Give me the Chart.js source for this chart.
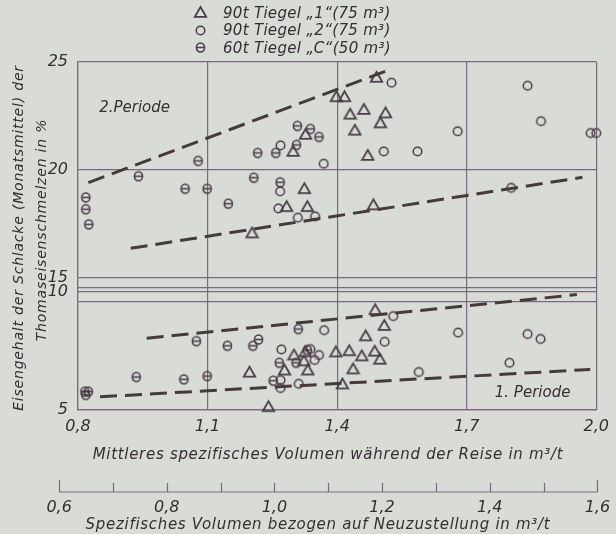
<!DOCTYPE html>
<html lang="de">
<head>
<meta charset="utf-8">
<title>Eisengehalt der Schlacke</title>
<script src="https://cdn.jsdelivr.net/npm/chart.js@4.4.1/dist/chart.umd.min.js"></script>
<style>
  html, body { margin: 0; padding: 0; background: #d9dcd6; }
  #wrap { position: relative; width: 616px; height: 534px; overflow: hidden;
          font-family: "DejaVu Sans", sans-serif; font-style: italic; color: #342e33; }
  #chart { position: absolute; left: 0; top: 0; }
  .legend-row { position: absolute; left: 193px; height: 17px; display: flex; align-items: center;
                white-space: nowrap; font-size: 15px; letter-spacing: 0.3px; }
  .legend-row span { margin-left: 15px; }
  .ytitle { position: absolute; width: 360px; height: 18px; line-height: 18px; text-align: center;
            white-space: nowrap; font-size: 14px; letter-spacing: 0.8px; transform: rotate(-90deg); }
  .xtitle { position: absolute; width: 600px; height: 18px; line-height: 18px; text-align: center;
            white-space: nowrap; font-size: 15px; letter-spacing: 0.7px; }
</style>
</head>
<body>
<div id="wrap">
  <canvas id="chart" width="616" height="534"></canvas>
  <div id="legend"></div>
  <div class="ytitle" style="left:-162px; top:229px;">Eisengehalt der Schlacke (Monatsmittel) der</div>
  <div class="ytitle" style="left:-139px; top:221px;">Thomaseisenschmelzen in %</div>
  <div class="xtitle" style="left:28px; top:445px;">Mittleres spezifisches Volumen während der Reise in m³/t</div>
  <div class="xtitle" style="left:18px; top:515px;">Spezifisches Volumen bezogen auf Neuzustellung in m³/t</div>
</div>
<script>
// Reihen (Legende)
const SERIES_LABELS = ["90t Tiegel „1“(75 m³)", "90t Tiegel „2“(75 m³)", "60t Tiegel „C“(50 m³)"];

// 2. Periode (oberes Feld)
const P2_T1_X = [1.491, 1.398, 1.417, 1.430, 1.462, 1.512, 1.500, 1.441, 1.327, 1.298, 1.471, 1.324, 1.283, 1.331, 1.484, 1.203];
const P2_T1_Y = [24.29, 23.39, 23.39, 22.58, 22.80, 22.64, 22.18, 21.84, 21.65, 20.86, 20.67, 19.13, 18.30, 18.30, 18.38, 17.08];
const P2_T2_X = [1.526, 1.269, 1.369, 1.508, 1.586, 1.679, 1.841, 1.872, 1.987, 2.000, 1.268, 1.264, 1.309, 1.349, 1.803];
const P2_T2_Y = [24.04, 21.14, 20.29, 20.86, 20.86, 21.79, 23.90, 22.26, 21.71, 21.71, 19.01, 18.22, 17.79, 17.85, 19.17];
const P2_TC_X = [0.818, 0.818, 0.825, 0.940, 1.078, 1.048, 1.099, 1.148, 1.207, 1.216, 1.258, 1.306, 1.308, 1.338, 1.358, 1.268];
const P2_TC_Y = [18.73, 18.18, 17.48, 19.71, 20.42, 19.13, 19.13, 18.44, 19.64, 20.79, 20.79, 21.16, 22.04, 21.90, 21.53, 19.43];

// 1. Periode (unteres Feld)
const P1_T1_X = [1.197, 1.241, 1.300, 1.323, 1.332, 1.278, 1.326, 1.397, 1.428, 1.437, 1.412, 1.457, 1.466, 1.487, 1.499, 1.488, 1.509];
const P1_T1_Y = [6.60, 5.14, 7.33, 7.08, 6.69, 6.69, 7.46, 7.46, 7.51, 6.74, 6.10, 7.29, 8.14, 7.49, 7.15, 9.25, 8.58];
const P1_T2_X = [1.370, 1.271, 1.348, 1.358, 1.269, 1.269, 1.311, 1.338, 1.530, 1.510, 1.589, 1.680, 1.841, 1.871, 1.799];
const P1_T2_Y = [8.38, 7.57, 7.12, 7.33, 6.27, 5.93, 6.11, 7.58, 8.98, 7.89, 6.61, 8.28, 8.22, 8.01, 7.00];
const P1_TC_X = [0.816, 0.824, 0.818, 0.935, 1.045, 1.099, 1.074, 1.146, 1.205, 1.218, 1.310, 1.266, 1.252, 1.305, 1.331];
const P1_TC_Y = [5.78, 5.78, 5.64, 6.40, 6.30, 6.44, 7.92, 7.72, 7.72, 7.99, 8.43, 7.00, 6.24, 7.00, 7.54];

// Streubandgrenzen (gestrichelt)
const BAND_P2_HIGH_X = [0.824, 1.526], BAND_P2_HIGH_Y = [19.41, 24.68];
const BAND_P2_LOW_X = [0.922, 1.968], BAND_P2_LOW_Y = [16.37, 19.66];
const BAND_P1_HIGH_X = [0.959, 1.955], BAND_P1_HIGH_Y = [8.04, 9.89];
const BAND_P1_LOW_X = [0.851, 1.986], BAND_P1_LOW_Y = [5.56, 6.72];

// Achsen
const X_TICKS = [0.8, 1.1, 1.4, 1.7, 2.0];
const Y_TICKS_TOP = [15, 20, 25];
const Y_TICKS_BOT = [5, 10];
const X2_TICKS = [0.6, 0.7, 0.8, 0.9, 1.0, 1.1, 1.2, 1.3, 1.4, 1.5, 1.6];
const X2_LABELS = [0.6, 0.8, 1.0, 1.2, 1.4, 1.6];

const INK = "#342e33";
const MARK = "#4a3b48";
const GRID = "#7a687c";
const DASH = "#463a3a";
const FONT = '"DejaVu Sans", sans-serif';

// Bereichsgrenzen der beiden Felder
const TOP_MIN = 14.44, TOP_FRAME = 14.54;
const BOT_MAX = 10.085, BOT_LINE = 9.58;
const X2_MIN = 0.6351, X2_MAX = 1.598;

function comma(v) { return v.toFixed(1).replace(".", ","); }
function pts(xs, ys) { return xs.map((x, i) => ({ x: x, y: ys[i] })); }

function makeMarker(kind) {
  const c = document.createElement("canvas");
  c.width = 15; c.height = 15;
  const g = c.getContext("2d");
  const cx = 7.5, cy = 7.5;
  g.strokeStyle = MARK;
  g.lineWidth = kind === "tri" ? 1.8 : 1.5;
  g.beginPath();
  if (kind === "tri") {
    g.moveTo(cx, cy - 5.5); g.lineTo(cx + 5.7, cy + 4.3); g.lineTo(cx - 5.7, cy + 4.3); g.closePath();
  } else if (kind === "circ") {
    g.arc(cx, cy, 4.3, 0, Math.PI * 2);
  } else {
    g.ellipse(cx, cy, 4.1, 4.6, 0, 0, Math.PI * 2);
    g.moveTo(cx - 4.1, cy); g.lineTo(cx + 4.1, cy);
  }
  g.stroke();
  return c;
}
const KINDS = ["tri", "circ", "theta"];
const MARKERS = KINDS.map(makeMarker);

// Legende
const legend = document.getElementById("legend");
SERIES_LABELS.forEach((text, i) => {
  const row = document.createElement("div");
  row.className = "legend-row";
  row.style.top = (4 + i * 17.5) + "px";
  row.appendChild(makeMarker(KINDS[i]));
  const span = document.createElement("span");
  span.textContent = text;
  row.appendChild(span);
  legend.appendChild(row);
});

function scatterSet(label, xs, ys, kind, axis) {
  return {
    type: "scatter", label: label, data: pts(xs, ys),
    xAxisID: "x", yAxisID: axis,
    pointStyle: MARKERS[kind], pointRadius: 5, clip: false
  };
}
function bandSet(xs, ys, axis) {
  return {
    type: "line", data: pts(xs, ys), xAxisID: "x", yAxisID: axis,
    borderColor: DASH, borderWidth: 3, borderDash: [17, 8], borderCapStyle: "butt",
    pointRadius: 0, fill: false
  };
}

const periodLabels = [
  { text: "2.Periode", x: 0.849, y: 22.87, axis: "yTop" },
  { text: "1. Periode", x: 1.765, y: 5.72, axis: "yBot" }
];

const textPlugin = {
  id: "periodText",
  afterDatasetsDraw(chart) {
    const ctx = chart.ctx;
    ctx.save();
    ctx.font = "italic 15px " + FONT;
    ctx.fillStyle = INK;
    ctx.textBaseline = "middle";
    ctx.textAlign = "left";
    periodLabels.forEach(l => {
      ctx.fillText(l.text, chart.scales.x.getPixelForValue(l.x), chart.scales[l.axis].getPixelForValue(l.y));
    });
    ctx.restore();
  }
};

// zweite Abszisse (bezogen auf Neuzustellung)
const secondAxis = {
  id: "secondAxis",
  afterDraw(chart) {
    const s = chart.scales.x2;
    const ctx = chart.ctx;
    const y = 492;
    ctx.save();
    ctx.strokeStyle = GRID;
    ctx.lineWidth = 1.2;
    ctx.beginPath();
    ctx.moveTo(s.getPixelForValue(X2_TICKS[0]), y);
    ctx.lineTo(s.getPixelForValue(X2_TICKS[X2_TICKS.length - 1]), y);
    X2_TICKS.forEach((v, i) => {
      const px = Math.round(s.getPixelForValue(v)) + 0.5;
      const end = i === 0 || i === X2_TICKS.length - 1;
      ctx.moveTo(px, y);
      ctx.lineTo(px, y - (end ? 12 : 9));
    });
    ctx.stroke();
    ctx.font = "italic 16px " + FONT;
    ctx.fillStyle = INK;
    ctx.textAlign = "center";
    ctx.textBaseline = "middle";
    X2_LABELS.forEach(v => ctx.fillText(comma(v), s.getPixelForValue(v), y + 16));
    ctx.restore();
  }
};

const tickFont = { family: FONT, size: 16, style: "italic" };

new Chart(document.getElementById("chart").getContext("2d"), {
  type: "scatter",
  data: {
    datasets: [
      bandSet(BAND_P2_HIGH_X, BAND_P2_HIGH_Y, "yTop"),
      bandSet(BAND_P2_LOW_X, BAND_P2_LOW_Y, "yTop"),
      bandSet(BAND_P1_HIGH_X, BAND_P1_HIGH_Y, "yBot"),
      bandSet(BAND_P1_LOW_X, BAND_P1_LOW_Y, "yBot"),
      scatterSet(SERIES_LABELS[0], P2_T1_X, P2_T1_Y, 0, "yTop"),
      scatterSet(SERIES_LABELS[1], P2_T2_X, P2_T2_Y, 1, "yTop"),
      scatterSet(SERIES_LABELS[2], P2_TC_X, P2_TC_Y, 2, "yTop"),
      scatterSet(SERIES_LABELS[0], P1_T1_X, P1_T1_Y, 0, "yBot"),
      scatterSet(SERIES_LABELS[1], P1_T2_X, P1_T2_Y, 1, "yBot"),
      scatterSet(SERIES_LABELS[2], P1_TC_X, P1_TC_Y, 2, "yBot")
    ]
  },
  options: {
    responsive: false,
    animation: false,
    layout: { padding: { top: 62, right: 17, bottom: 0, left: 0 } },
    plugins: { legend: { display: false }, tooltip: { enabled: false } },
    scales: {
      x: {
        type: "linear", position: "bottom", min: 0.8, max: 2.0,
        afterBuildTicks: s => { s.ticks = X_TICKS.map(v => ({ value: v })); },
        afterFit: s => { s.height = 124; },
        grid: { color: GRID, lineWidth: 1.2, drawTicks: false },
        border: { color: GRID, width: 1.2 },
        ticks: { font: tickFont, color: INK, padding: 7, autoSkip: false, maxRotation: 0, callback: v => comma(v) }
      },
      x2: { type: "linear", position: "bottom", display: false, min: X2_MIN, max: X2_MAX },
      yTop: {
        type: "linear", position: "left", stack: "panels", stackWeight: 228, weight: 1,
        min: TOP_MIN, max: 25,
        afterBuildTicks: s => { s.ticks = [TOP_FRAME].concat(Y_TICKS_TOP).map(v => ({ value: v })); },
        afterFit: s => { s.width = 78; },
        grid: { color: GRID, lineWidth: 1.2, drawTicks: false },
        border: { color: GRID, width: 1.2 },
        ticks: { font: tickFont, color: INK, padding: 10, autoSkip: false,
                 callback: v => Y_TICKS_TOP.includes(v) ? String(v) : "" }
      },
      yBot: {
        type: "linear", position: "left", stack: "panels", stackWeight: 120, weight: 0,
        min: 5, max: BOT_MAX,
        afterBuildTicks: s => { s.ticks = Y_TICKS_BOT.concat([BOT_LINE]).map(v => ({ value: v })); },
        afterFit: s => { s.width = 78; },
        grid: { color: GRID, lineWidth: 1.2, drawTicks: false },
        border: { color: GRID, width: 1.2 },
        ticks: { font: tickFont, color: INK, padding: 10, autoSkip: false,
                 callback: v => Y_TICKS_BOT.includes(v) ? String(v) : "" }
      }
    }
  },
  plugins: [textPlugin, secondAxis]
});
</script>
</body>
</html>
